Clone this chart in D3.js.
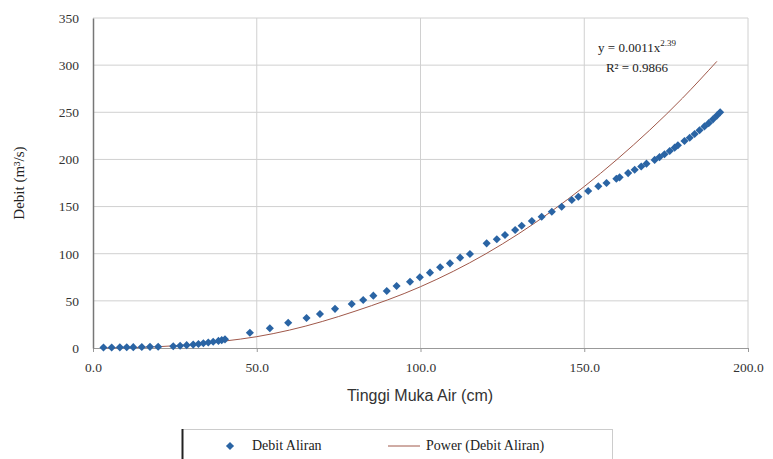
<!DOCTYPE html>
<html>
<head>
<meta charset="utf-8">
<script src="https://cdn.jsdelivr.net/npm/d3@7/dist/d3.min.js"></script>
<style>
  body { margin: 0; background: #fff; }
  svg { display: block; }
</style>
</head>
<body>
<div id="chart"></div>
<script>
// tinggi muka air (cm) -> debit (m3/s)
const tinggi = [
  3.2, 5.7, 8.2, 10.3, 12.3, 14.9, 17.4, 19.9,
  24.5, 26.6, 28.6, 30.6, 32.2, 33.7, 35.2, 36.7, 38.3, 39.3, 40.3,
  47.9, 54, 59.6, 65.2, 69.3, 73.9, 79, 82.5, 85.6, 89.7, 92.7, 96.8,
  99.8, 102.9, 106, 109, 112.1, 115.1, 120.2, 123.3, 125.8, 128.9,
  130.9, 134, 137, 140.1, 143.1, 146.2, 148.2, 151.2, 154.3, 156.8,
  159.8, 160.8, 163.4, 165.4, 167.4, 169, 171.5, 173, 174.5, 176.1,
  177.6, 178.6, 180.6, 182.2, 183.7, 185.2, 186.7, 188, 189.3, 190.5, 191.5
]
const debit = [
  0.5, 0.6, 0.7, 0.8, 0.9, 1.0, 1.2, 1.3,
  1.8, 2.4, 3.0, 3.6, 4.3, 5.0, 5.8, 6.6, 7.5, 8.3, 9.2,
  16.2, 21, 26.8, 31.8, 36, 41.5, 46.7, 50.9, 55.5, 60.4, 65.7, 70.3,
  75, 79.9, 85.6, 89.8, 95.8, 99.7, 111, 115.3, 119.8, 125.1,
  129.7, 134.7, 139.2, 144.5, 149.8, 156.9, 160.4, 166.5, 171.5, 175,
  179.5, 181, 185.5, 189, 192.5, 195.5, 199.5, 202.5, 205.5, 209,
  212.5, 215, 219.5, 223, 227, 231, 235, 238.5, 242.5, 246.5, 250
]

// power trendline, read at a few heights
const trendX = [3, 10, 20, 30, 40, 50, 60, 80, 100, 120, 140, 160, 180, 190.5]
const trendY = [0, 0.3, 1.4, 3.7, 7.3, 12, 19, 39, 65, 100, 145, 200, 265, 304]

const xTicks = [0, 50, 100, 150, 200]
const yTicks = [0, 50, 100, 150, 200, 250, 300, 350]

const width = 773
const height = 459
const margin = { top: 18, right: 25, bottom: 111, left: 93 }
const serif = "'Liberation Serif', 'Times New Roman', serif"

const svg = d3.select("#chart")
  .append("svg")
  .attr("width", width)
  .attr("height", height)

const x = d3.scaleLinear()
  .domain([0, 200])
  .range([margin.left, width - margin.right])

const y = d3.scaleLinear()
  .domain([0, 350])
  .range([height - margin.bottom, margin.top])

// gridlines
svg.append("g")
  .selectAll("line")
  .data(yTicks.slice(1))
  .join("line")
  .attr("x1", x(0))
  .attr("x2", x(200))
  .attr("y1", (d) => y(d))
  .attr("y2", (d) => y(d))
  .attr("stroke", "#d0d0d0")

svg.append("g")
  .selectAll("line")
  .data(xTicks.slice(1))
  .join("line")
  .attr("x1", (d) => x(d))
  .attr("x2", (d) => x(d))
  .attr("y1", y(0))
  .attr("y2", y(350))
  .attr("stroke", "#d0d0d0")

// axes
const xAxis = svg.append("g")
  .attr("transform", `translate(0,${y(0)})`)
  .call(d3.axisBottom(x).tickValues(xTicks).tickFormat(d3.format(".1f")).tickSize(4).tickPadding(10))
xAxis.select(".domain").attr("stroke", "#999")
xAxis.selectAll(".tick line").attr("stroke", "#999")

const yAxis = svg.append("g")
  .attr("transform", `translate(${x(0)},0)`)
  .call(d3.axisLeft(y).tickValues(yTicks).tickSize(0).tickPadding(14))
yAxis.select(".domain").attr("stroke", "#777").attr("stroke-width", 1.5)

svg.selectAll(".tick text")
  .attr("font-family", serif)
  .attr("font-size", 13.5)
  .attr("fill", "#333")

// trendline
svg.append("path")
  .datum(trendX.map((t, i) => [t, trendY[i]]))
  .attr("fill", "none")
  .attr("stroke", "#a0584a")
  .attr("stroke-width", 1)
  .attr("d", d3.line().x((d) => x(d[0])).y((d) => y(d[1])).curve(d3.curveMonotoneX))

// data points
const diamond = d3.symbol().type(d3.symbolDiamond2).size(42)
svg.append("g")
  .selectAll("path")
  .data(tinggi.map((t, i) => [t, debit[i]]))
  .join("path")
  .attr("transform", (d) => `translate(${x(d[0])},${y(d[1])})`)
  .attr("d", diamond)
  .attr("fill", "#2a64a4")

// equation
const eq = svg.append("text")
  .attr("x", 637)
  .attr("y", 52)
  .attr("text-anchor", "middle")
  .attr("font-family", serif)
  .attr("font-size", 13)
  .attr("fill", "#222")
eq.append("tspan").text("y = 0.0011x")
eq.append("tspan").attr("dy", -6).attr("font-size", 9).text("2.39")

svg.append("text")
  .attr("x", 637)
  .attr("y", 72)
  .attr("text-anchor", "middle")
  .attr("font-family", serif)
  .attr("font-size", 13)
  .attr("fill", "#222")
  .text("R² = 0.9866")

// axis titles
svg.append("text")
  .attr("transform", `translate(24,${(y(0) + y(350)) / 2}) rotate(-90)`)
  .attr("text-anchor", "middle")
  .attr("font-family", serif)
  .attr("font-size", 15)
  .attr("fill", "#222")
  .text("Debit (m³/s)")

svg.append("text")
  .attr("x", 420)
  .attr("y", 401)
  .attr("text-anchor", "middle")
  .attr("font-family", "'Liberation Sans', Arial, sans-serif")
  .attr("font-size", 16)
  .attr("fill", "#333")
  .text("Tinggi Muka Air (cm)")

// legend box
svg.append("line")
  .attr("x1", 182).attr("x2", 613).attr("y1", 429.5).attr("y2", 429.5)
  .attr("stroke", "#ccc")
svg.append("line")
  .attr("x1", 182.5).attr("x2", 182.5).attr("y1", 429).attr("y2", 459)
  .attr("stroke", "#222").attr("stroke-width", 2)
svg.append("line")
  .attr("x1", 612.5).attr("x2", 612.5).attr("y1", 429).attr("y2", 459)
  .attr("stroke", "#ccc")

const legend = svg.append("g")
legend.append("path")
  .attr("transform", "translate(230,446)")
  .attr("d", diamond)
  .attr("fill", "#2a64a4")
legend.append("text")
  .attr("x", 252).attr("y", 450)
  .attr("font-family", serif)
  .attr("font-size", 14)
  .attr("fill", "#222")
  .text("Debit Aliran")
legend.append("line")
  .attr("x1", 388).attr("x2", 420).attr("y1", 446).attr("y2", 446)
  .attr("stroke", "#a0584a")
legend.append("text")
  .attr("x", 426).attr("y", 450)
  .attr("font-family", serif)
  .attr("font-size", 14)
  .attr("fill", "#222")
  .text("Power (Debit Aliran)")
</script>
</body>
</html>
